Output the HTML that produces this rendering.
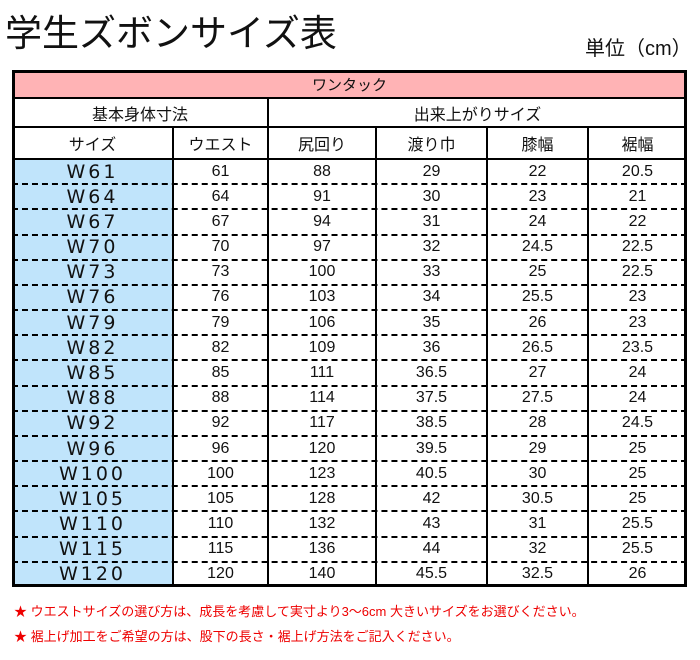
<!DOCTYPE html>
<html><head><meta charset="utf-8">
<style>
body{margin:0;width:700px;height:660px;background:#fff;position:relative;overflow:hidden;font-family:"Liberation Sans","Noto Sans CJK JP",sans-serif;}
.a{position:absolute;}
.c{position:absolute;display:flex;align-items:center;justify-content:center;box-sizing:border-box;color:#111;font-size:16px;}
.v{border-left:2px solid #000;position:absolute;}
.h{border-top:2px solid #000;position:absolute;}
.d{border-top:2px dashed #000;position:absolute;}
.note{position:absolute;left:14px;color:#e00;font-size:13px;}
</style></head><body>
<div class="a" style="left:5px;top:3px;font-size:37px;color:#111;">学生ズボンサイズ表</div>
<div class="a" style="left:585px;top:32px;font-size:20px;color:#111;">単位（cm）</div>
<div id="t" class="a" style="left:12px;top:70px;width:675px;height:517px;border:3px solid #000;box-sizing:border-box;"></div>
<div class="note" style="top:601px;">★ ウエストサイズの選び方は、成長を考慮して実寸より3～6cm 大きいサイズをお選びください。</div>
<div class="note" style="top:626px;">★ 裾上げ加工をご希望の方は、股下の長さ・裾上げ方法をご記入ください。</div>
<script>
const sizes=["W61","W64","W67","W70","W73","W76","W79","W82","W85","W88","W92","W96","W100","W105","W110","W115","W120"];
const waist=[61,64,67,70,73,76,79,82,85,88,92,96,100,105,110,115,120];
const hip=[88,91,94,97,100,103,106,109,111,114,117,120,123,128,132,136,140];
const thigh=[29,30,31,32,33,34,35,36,"36.5","37.5","38.5","39.5","40.5",42,43,44,"45.5"];
const knee=[22,23,24,"24.5",25,"25.5",26,"26.5",27,"27.5",28,29,30,"30.5",31,32,"32.5"];
const hem=["20.5",21,22,"22.5","22.5",23,23,"23.5",24,24,"24.5",25,25,25,"25.5","25.5",26];
const colX=[12,173,268,376,487,588,687];
const heads=["サイズ","ウエスト","尻回り","渡り巾","膝幅","裾幅"];
const b=document.body;
function cell(x,y,w,h,txt,name,bg,fs,ff){const e=document.createElement('div');e.className='c';


e.style.cssText=`left:${x}px;top:${y}px;width:${w}px;height:${h}px;`+(bg?`background:${bg};`:'')+(fs?`font-size:${fs}px;`:'')+(ff?`font-family:${ff};letter-spacing:3px;`:'');e.textContent=txt;b.appendChild(e);return e;}
cell(12,70,675,28,"ワンタック","header-one-tuck","#ffb3b5",15);
cell(12,98,256,29,"基本身体寸法","header-body-size");
cell(268,98,419,29,"出来上がりサイズ","header-finished-size");
for(let i=0;i<6;i++)cell(colX[i],127,colX[i+1]-colX[i],32,heads[i],"col-header");
const top0=159,rh=(587-159)/sizes.length;
const cols=[sizes,waist,hip,thigh,knee,hem];
for(let r=0;r<sizes.length;r++){for(let c=0;c<6;c++){cell(colX[c],top0+r*rh,colX[c+1]-colX[c],rh,String(cols[c][r]),c==0?"size-cell":"value-cell",c==0?"#c0e4fb":null,c==0?19:16,c==0?'"DejaVu Sans",sans-serif':null);}}
function line(cls,x,y,w,h){const e=document.createElement('div');e.className=cls;


e.style.left=x+'px';e.style.top=y+'px';if(cls=='v'){e.style.height=h+'px';}else e.style.width=w+'px';b.appendChild(e);}
line('h',12,97,675);line('h',12,126,675);line('h',12,158,675);
line('v',267,97,0,490);
for(let i=1;i<6;i++)if(i!=2)line('v',colX[i]-1,126,0,461);
for(let r=1;r<sizes.length;r++)line('d',12,top0+r*rh-1,675);
const t=document.getElementById('t');b.appendChild(t);t.style.zIndex=5;
</script>
</body></html>
